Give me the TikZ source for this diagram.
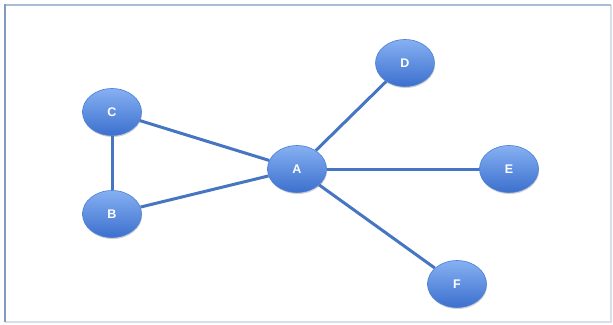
\documentclass[tikz,border=0pt]{standalone}
\usepackage{fontspec}
\setmainfont{Liberation Sans}
\usetikzlibrary{shapes.geometric,shadows,backgrounds}
\definecolor{nodetop}{HTML}{86B0F2}
\definecolor{nodebot}{HTML}{3C70CE}
\definecolor{nodeline}{HTML}{4C7FD6}
\definecolor{edgecol}{HTML}{4676C2}
\definecolor{frameleft}{HTML}{7F9CC0}
\definecolor{frametop}{HTML}{A9BDD6}
\definecolor{framefaint}{HTML}{D6E0EC}
\tikzset{
  vert/.style={ellipse, minimum width=59pt, minimum height=47pt, inner sep=0pt,
    top color=nodetop, bottom color=nodebot, draw=nodeline, line width=0.6pt,
    text=white, font=\fontsize{12.5}{12.5}\selectfont\bfseries,
    drop shadow={shadow xshift=0.6pt, shadow yshift=-1.5pt, opacity=0.3, fill=black!60}},
  link/.style={draw=edgecol, line width=3pt}
}
\begin{document}
\begin{tikzpicture}[x=1pt,y=-1pt]
\useasboundingbox (0,0) rectangle (613,324);
\node[vert] (C) at (112,112) {C};
\node[vert] (B) at (112,214) {B};
\node[vert] (A) at (297,169) {A};
\node[vert] (D) at (405,63) {D};
\node[vert] (E) at (509,169) {E};
\node[vert] (F) at (457,284) {F};
\begin{scope}[on background layer]
\fill[white] (0,0) rectangle (613,324);
\draw[framefaint, line width=1.2pt] (611,5) -- (611,322) -- (5,322);
\draw[frametop, line width=1.2pt] (5,5) -- (611,5);
\draw[frameleft, line width=1.5pt] (5,4.4) -- (5,322);
\draw[link] (C) -- (B);
\draw[link] (C) -- (A);
\draw[link] (B) -- (A);
\draw[link] (A) -- (D);
\draw[link] (A) -- (E);
\draw[link] (A) -- (F);
\end{scope}
\end{tikzpicture}
\end{document}
